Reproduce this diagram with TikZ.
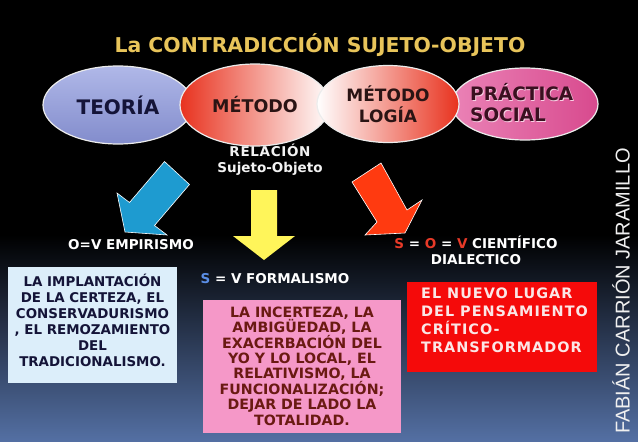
\documentclass[tikz,border=0pt]{standalone}
\usepackage{fontspec}
\setmainfont{DejaVu Sans}
\newfontfamily\authfont{Liberation Sans}
\newfontfamily\wfont[LetterSpace=7]{DejaVu Sans}
\newfontfamily\rfont[LetterSpace=5]{DejaVu Sans}
\usetikzlibrary{shapes.geometric}
\definecolor{gold}{HTML}{E8C45A}
\definecolor{bgblue}{HTML}{5470A4}
\definecolor{navy}{HTML}{141438}
\definecolor{darkred}{HTML}{2A1414}
\definecolor{maroon}{HTML}{6A1A12}
\definecolor{arrblue}{HTML}{1E9BD0}
\definecolor{arryellow}{HTML}{FFF55A}
\definecolor{arrred}{HTML}{FF3A10}
\definecolor{mred}{HTML}{E8321E}
\definecolor{pinkA}{HTML}{EA82B6}
\definecolor{pinkB}{HTML}{D84A8E}
\definecolor{teoA}{HTML}{B0B8E8}
\definecolor{teoB}{HTML}{828CCC}
\definecolor{pracText}{HTML}{3A1020}
\definecolor{pracGlow}{HTML}{F8D0E4}
\definecolor{lightbox}{HTML}{DCEEFA}
\definecolor{pinkbox}{HTML}{F598C8}
\definecolor{redbox}{HTML}{F50A0A}
\definecolor{redboxtext}{HTML}{FBE6E6}
\definecolor{sred}{HTML}{E83A28}
\definecolor{sblue}{HTML}{5B8EE6}
\begin{document}
\begin{tikzpicture}[x=1pt,y=-1pt,
  oval/.style={ellipse, draw=white!85!gray, line width=1.2pt, inner sep=0pt, align=center, font=\fontsize{17.5}{21}\selectfont\bfseries},
  lbl/.style={text=white, font=\fontsize{13.5}{16}\selectfont\bfseries, inner sep=0pt},
  blockarrow/.style={draw=white!70, line width=0.6pt, line join=miter},
  textbox/.style={inner sep=0pt, align=center}]
\useasboundingbox (0,0) rectangle (638,442);
\fill[black] (0,0) rectangle (638,442);
\shade[top color=black, bottom color=bgblue] (0,235) rectangle (638,442);

% title
\node[text=gold, font=\fontsize{20.4}{24}\selectfont\bfseries, inner sep=0pt] (title) at (320,45) {La CONTRADICCIÓN SUJETO-OBJETO};

% ellipses
\node[oval, minimum width=150pt, minimum height=78pt, top color=teoA, bottom color=teoB, text=navy, font=\fontsize{20}{24}\selectfont\bfseries] (teoria) at (118,105) {TEORÍA};
\node[oval, minimum width=150pt, minimum height=82pt, left color=mred, right color=white, text=darkred] (metodo) at (255,105) {MÉTODO};
\node[oval, minimum width=146pt, minimum height=72pt, left color=pinkA, right color=pinkB] (practica) at (525,104) {};
\node[text=pracGlow, align=left, inner sep=0pt, anchor=west, font=\fontsize{18.5}{21}\selectfont\bfseries] (pracglow) at (470.8,103.8) {PRÁCTICA\\SOCIAL};
\node[text=pracText, align=left, inner sep=0pt, anchor=west, font=\fontsize{18.5}{21}\selectfont\bfseries] (practext) at (470,103) {PRÁCTICA\\SOCIAL};
\node[oval, minimum width=142pt, minimum height=77pt, left color=white, right color=mred, text=darkred, font=\fontsize{17}{21}\selectfont\bfseries] (metlog) at (388,104) {MÉTODO\\LOGÍA};

% relation label
\node[text=white!90!gray, font=\fontsize{13.5}{16}\selectfont\bfseries, align=center, inner sep=0pt] (relacion) at (270,160) {{\rfont\bfseries RELACIÓN}\\Sujeto-Objeto};

% arrows
\fill[arrblue, blockarrow] (164.5,161.5) -- (189.5,184.5) -- (154.5,225.5) -- (167,235) -- (125,232) -- (117,193) -- (129.5,202.5) -- cycle;
\fill[arryellow] (251,190) -- (277,190) -- (277,236) -- (295,236) -- (264,260) -- (233,236) -- (251,236) -- cycle;
\fill[arrred, blockarrow] (352,182) -- (381,163) -- (407,210) -- (422,200) -- (405,233) -- (365,235) -- (377,222) -- cycle;

% labels
\node[lbl] (empirismo) at (131,245) {O=V EMPIRISMO};
\node[lbl] (formalismo) at (275,279) {\textcolor{sblue}{S} = V FORMALISMO};
\node[lbl, align=center] (cientifico) at (476,250) {\textcolor{sred}{S} = \textcolor{sred}{O} = \textcolor{sred}{V} CIENTÍFICO\\DIALECTICO};

% boxes
\node[fill=lightbox, minimum width=169pt, minimum height=116pt, inner sep=0pt] (implantbox) at (92.5,325) {};
\node[textbox, text=navy, font=\fontsize{13.4}{16}\selectfont\bfseries] (implant) at (92.5,320) {LA IMPLANTACIÓN\\DE LA CERTEZA, EL\\CONSERVADURISMO\\, EL REMOZAMIENTO\\DEL\\TRADICIONALISMO.};
\node[textbox, fill=pinkbox, minimum width=198pt, minimum height=133pt, text=maroon, font=\fontsize{14.2}{15.4}\selectfont\bfseries] (incerteza) at (302,366) {LA INCERTEZA, LA\\AMBIGÜEDAD, LA\\EXACERBACIÓN DEL\\YO Y LO LOCAL, EL\\RELATIVISMO, LA\\FUNCIONALIZACIÓN;\\DEJAR DE LADO LA\\TOTALIDAD.};
\node[fill=redbox, minimum width=190pt, minimum height=90pt, inner sep=0pt] (nuevobox) at (502,327) {};
\node[textbox, text=redboxtext, align=left, anchor=west, font=\wfont\fontsize{14.4}{18}\selectfont\bfseries] (nuevo) at (421,320) {EL NUEVO LUGAR\\DEL PENSAMIENTO\\CRÍTICO-\\TRANSFORMADOR};

% author
\node[rotate=90, text=white!88!gray, font=\authfont\fontsize{20}{22}\selectfont, inner sep=0pt] (author) at (621,291) {FABIÁN CARRIÓN JARAMILLO};
\end{tikzpicture}
\end{document}
